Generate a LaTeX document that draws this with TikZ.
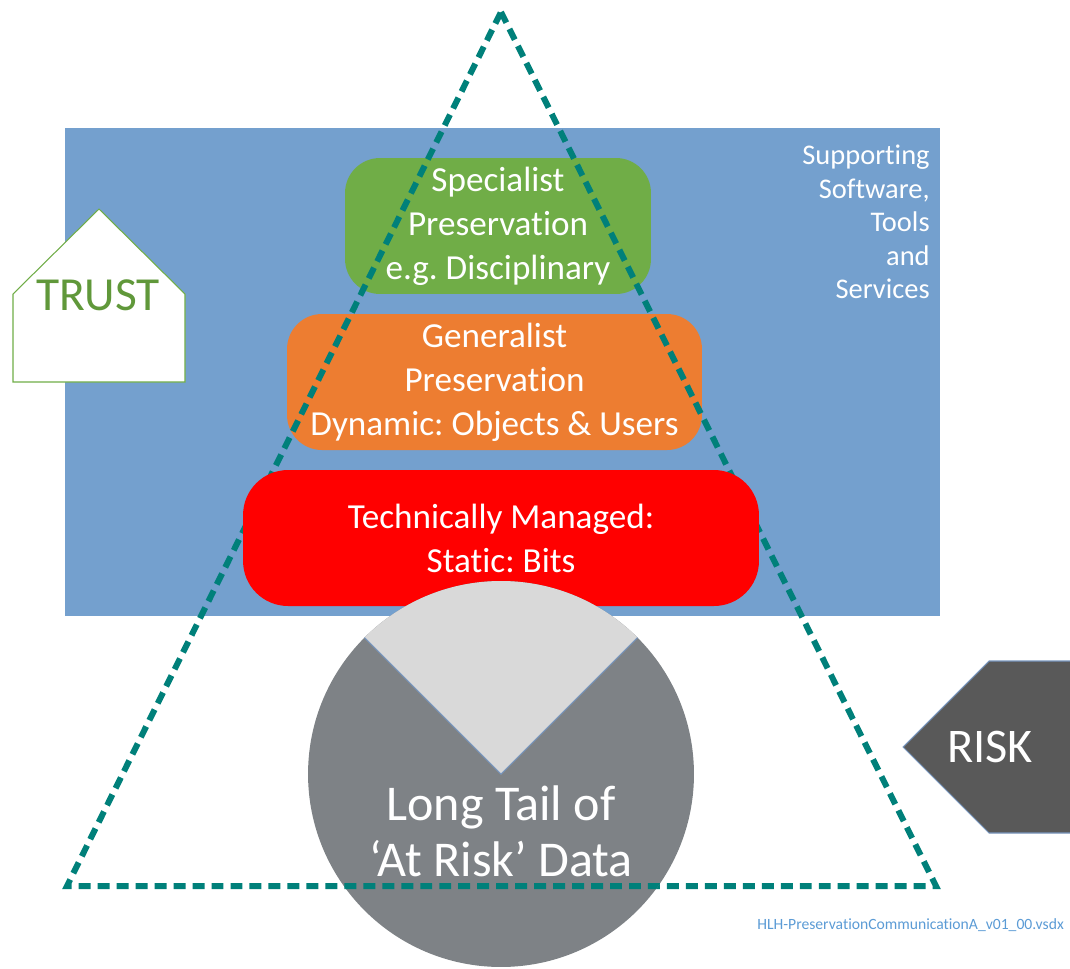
\documentclass[tikz,border=0pt]{standalone}
\usepackage{fontspec}
\setmainfont{Carlito}[Ligatures={TeX,NoCommon}]
\frenchspacing
\definecolor{backblue}{RGB}{116,160,206}
\definecolor{specgreen}{RGB}{112,173,71}
\definecolor{genorange}{RGB}{237,125,49}
\definecolor{tealdash}{RGB}{0,128,122}
\definecolor{tailgray}{RGB}{126,130,134}
\definecolor{wedgegray}{RGB}{217,217,217}
\definecolor{wedgeedge}{RGB}{120,150,190}
\definecolor{riskgray}{RGB}{89,89,89}
\definecolor{trustgreen}{RGB}{96,152,58}
\definecolor{fileblue}{RGB}{91,155,213}

\begin{document}
\begin{tikzpicture}[x=0.02cm, y=-0.02cm,
        layer/.style={rounded corners=0.7cm, minimum height=2.72cm, inner sep=0pt, align=center, text=white, font=\fontsize{20pt}{25pt}\selectfont},
        pyramid/.style={draw=tealdash, line width=0.12cm, dash pattern=on 6.8pt off 4pt}]
        \useasboundingbox (0,0) rectangle (1070,968);
        \fill[backblue] (65,128) rectangle (940,616);
        \filldraw[fill=white, draw=specgreen, line width=0.6pt] (13,294) -- (99,209) -- (185,294) -- (185,382) -- (13,382) -- cycle;
        \begin{scope}[every node/.style={layer}]
                \node[fill=specgreen, minimum width=6.12cm] (spec) at (498,226) {Specialist\\Preservation\\e.g. Disciplinary};
                \node[fill=genorange, minimum width=8.3cm] (gen) at (494.5,382) {Generalist\\Preservation\\Dynamic: Objects \& Users};
        \end{scope}
        \draw[pyramid] (501,12) -- (936,886) -- (67,886) -- cycle;
        \node[layer, fill=red, rounded corners=0.9cm, minimum width=10.32cm] (tech) at (501,538) {Technically Managed:\\Static: Bits};
        \node[circle, fill=tailgray, minimum size=7.72cm, inner sep=0pt] (tail) at (501,774) {};
        \begin{scope}
                \clip (tail.center) circle [radius=193];
                \filldraw[fill=wedgegray, draw=wedgeedge, line width=0.6pt] (tail.center) -- ++(-250,-250) -- ++(500,0) -- cycle;
                \draw[pyramid] (501,12) -- (936,886) -- (67,886) -- cycle;
        \end{scope}
        \filldraw[fill=riskgray, draw=wedgeedge, line width=0.6pt] (903,747) -- (989,661) -- (1080,661) -- (1080,833) -- (989,833) -- cycle;
        \node[text=white, font=\fontsize{28.5pt}{32pt}\selectfont, align=center] (longtail) at (501,831) {Long Tail of\\‘At Risk’ Data};
        \node[text=trustgreen, font=\fontsize{27pt}{32pt}\selectfont] (trust) at (98,295) {TRUST};
        \node[text=white, font=\fontsize{27.5pt}{32pt}\selectfont] (risk) at (990,747) {RISK};
        \node[text=white, font=\fontsize{16.2pt}{19pt}\selectfont, align=right, anchor=east, inner sep=0pt] (support) at (930,222) {Supporting\\Software,\\Tools\\and\\Services};
        \node[text=fileblue, font=\fontsize{8.9pt}{11pt}\selectfont, anchor=west, inner sep=0pt] (file) at (757,925) {HLH-PreservationCommunicationA\_v01\_00.vsdx};
\end{tikzpicture}
\end{document}
